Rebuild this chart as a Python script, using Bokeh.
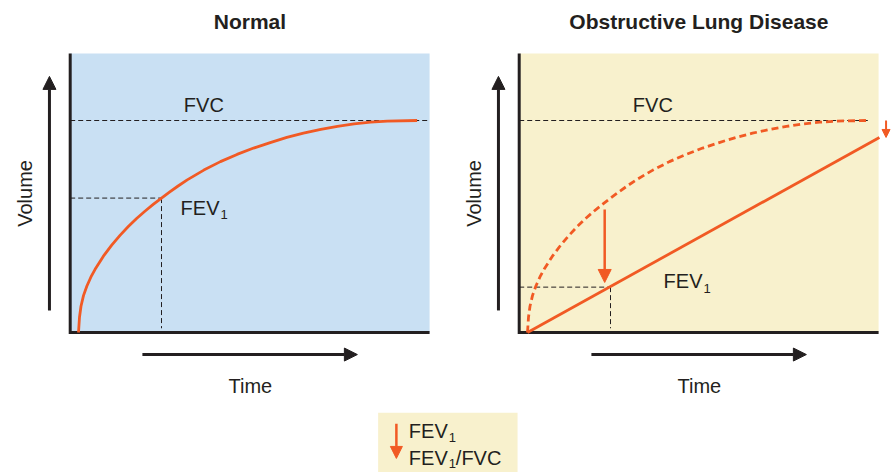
from bokeh.plotting import figure
from bokeh.models import Range1d, Arrow, NormalHead
from bokeh.core.properties import value
from bokeh.embed import file_html
from bokeh.resources import INLINE
import math

# ---------------- data ----------------
PANEL_TITLES = ["Normal", "Obstructive Lung Disease"]
X_LABEL = "Time"
Y_LABEL = "Volume"

# normal forced expiration curve (time in s, volume in L)
NORMAL_TIME_S = [0.0, 0.012, 0.03, 0.06, 0.10, 0.15, 0.20, 0.30, 0.40, 0.50,
                 0.60, 0.70, 0.80, 0.90, 1.0, 1.10, 1.20, 1.31, 1.51, 1.71,
                 1.91, 2.11, 2.31, 2.51, 2.71, 2.92, 3.12, 3.32, 3.52, 3.72, 4.08]
NORMAL_VOLUME_L = [0.0, 0.36, 0.62, 0.87, 1.09, 1.31, 1.49, 1.80, 2.06, 2.29,
                   2.50, 2.69, 2.86, 3.02, 3.17, 3.315, 3.455, 3.60, 3.83, 4.03,
                   4.20, 4.35, 4.48, 4.60, 4.70, 4.79, 4.86, 4.92, 4.96, 4.985, 5.0]

# obstructive curve (straight line)
OBSTRUCTIVE_TIME_S = [0.0, 4.24]
OBSTRUCTIVE_VOLUME_L = [0.0, 4.60]

FVC_L = 5.0
FEV1_TIME_S = 1.0
FEV1_NORMAL_L = 3.17
FEV1_OBSTRUCTIVE_L = 1.07

# ---------------- layout / style ----------------
W, H = 895, 472
PX_PER_S = 83.0
PX_PER_L = 42.4
ORIGIN_LEFT_X = 78      # canvas px of t=0, left panel
ORIGIN_RIGHT_X = 527    # canvas px of t=0, right panel
ORIGIN_Y = 332          # canvas px (from top) of V=0

T_AXIS = -0.1
T_END = 4.23
V_TOP = 6.58

DARK = "#231f20"
ORANGE = "#f15a24"
BLUE = "#c9e0f3"
YELLOW = "#f8f1cd"
FONT = value("Liberation Sans")

p = figure(width=W, height=H, output_backend="svg", toolbar_location=None, tools="",
           title=None, x_axis_type=None, y_axis_type=None, min_border=0,
           x_range=Range1d(-ORIGIN_LEFT_X / PX_PER_S, (W - ORIGIN_LEFT_X) / PX_PER_S),
           y_range=Range1d(-(H - ORIGIN_Y) / PX_PER_L, ORIGIN_Y / PX_PER_L))
p.extra_x_ranges = {"obs": Range1d(-ORIGIN_RIGHT_X / PX_PER_S, (W - ORIGIN_RIGHT_X) / PX_PER_S)}
p.outline_line_color = None
p.background_fill_color = "white"
p.border_fill_color = "white"


def txt(xr, x, y, s, size="20px", align="left", bold=False,
        xo=0, yo=0, angle=0.0, color=DARK):
    p.text(x=[x], y=[y], text=[s], x_range_name=xr, text_font=FONT,
           text_font_size=size, text_align=align, text_baseline="middle",
           text_font_style="bold" if bold else "normal", text_color=color,
           x_offset=xo, y_offset=yo, angle=angle)


def fev1(xr, x, y, suffix=None, sub_drop=7):
    txt(xr, x, y, "FEV")
    txt(xr, x, y, "1", size="13px", xo=40, yo=sub_drop)
    if suffix:
        txt(xr, x, y, suffix, xo=47)


def arrow(xr, xs, ys, xe, ye, color, lw, size):
    p.add_layout(Arrow(x_start=xs, y_start=ys, x_end=xe, y_end=ye, x_range_name=xr,
                       line_color=color, line_width=lw,
                       end=NormalHead(size=size, fill_color=color, line_color=color, line_width=1)))


def panel(xr, bg, title, fvc_end, fev1_val, fev1_label_pos):
    p.quad(left=[T_AXIS], right=[T_END], bottom=[0], top=[V_TOP], x_range_name=xr,
           fill_color=bg, line_color=None)
    # FVC reference
    p.line(x=[T_AXIS, fvc_end], y=[FVC_L, FVC_L], x_range_name=xr,
           line_color=DARK, line_width=1, line_dash="5 3")
    # FEV1 guides
    p.line(x=[T_AXIS, FEV1_TIME_S], y=[fev1_val, fev1_val], x_range_name=xr,
           line_color=DARK, line_width=1, line_dash="5 3")
    p.line(x=[FEV1_TIME_S, FEV1_TIME_S], y=[fev1_val, 0.1], x_range_name=xr,
           line_color=DARK, line_width=1, line_dash="5 3")
    # frame axes
    p.line(x=[T_AXIS, T_AXIS, T_END], y=[V_TOP, 0, 0], x_range_name=xr,
           line_color=DARK, line_width=3, line_join="miter")
    # titles and labels
    txt(xr, (T_AXIS + T_END) / 2, 7.34, title, size="21px", align="center", bold=True)
    txt(xr, 1.51, FVC_L, "FVC", align="center", yo=-16)
    fev1(xr, fev1_label_pos[0], fev1_label_pos[1])
    txt(xr, 2.07, -1.25, X_LABEL, align="center")
    txt(xr, -0.647, 3.28, Y_LABEL, align="center", angle=math.pi / 2)
    arrow(xr, -0.35, 0.52, -0.35, 6.04, DARK, 3, 13)
    arrow(xr, 0.77, -0.52, 3.36, -0.52, DARK, 3, 13)


# Normal panel
panel("default", BLUE, PANEL_TITLES[0], T_END, FEV1_NORMAL_L, (1.23, 2.94))
p.line(x=NORMAL_TIME_S, y=NORMAL_VOLUME_L, line_color=ORANGE, line_width=2.8,
       line_join="round")

# Obstructive panel
panel("obs", YELLOW, PANEL_TITLES[1], 4.1, FEV1_OBSTRUCTIVE_L, (1.64, 1.21))
p.line(x=NORMAL_TIME_S, y=NORMAL_VOLUME_L, x_range_name="obs",
       line_color=ORANGE, line_width=2.8, line_dash="7 4")
p.line(x=OBSTRUCTIVE_TIME_S, y=OBSTRUCTIVE_VOLUME_L, x_range_name="obs",
       line_color=ORANGE, line_width=2.8)
arrow("obs", 0.93, 2.9, 0.93, 1.18, ORANGE, 2.5, 13)
arrow("obs", 4.32, FVC_L, 4.32, OBSTRUCTIVE_VOLUME_L[-1], ORANGE, 2, 8)

# Legend box
p.quad(left=[3.61], right=[5.29], bottom=[-3.4], top=[-1.89], fill_color=YELLOW, line_color=None)
arrow("default", 3.83, -2.15, 3.83, -2.97, ORANGE, 2.5, 12)
fev1("default", 3.98, -2.32)
fev1("default", 3.98, -2.96, suffix="/FVC", sub_drop=5)

open("out.html", "w").write(file_html(p, INLINE))
